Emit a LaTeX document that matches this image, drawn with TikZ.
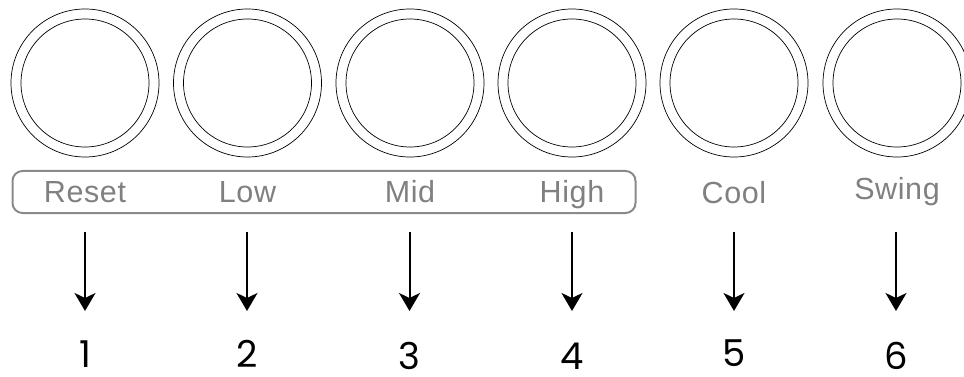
\documentclass[tikz,border=0pt]{standalone}
\usepackage{fontspec}
\setmainfont{Liberation Sans}
\newfontfamily\numfont{Poppins}
\usetikzlibrary{arrows.meta}
\definecolor{labgray}{HTML}{808080}
\definecolor{boxgray}{HTML}{8A8A8A}
\tikzset{
  knobout/.style={circle, draw=black, line width=0.7pt, minimum size=148pt, inner sep=0pt},
  knobin/.style={circle, draw=black, line width=0.7pt, minimum size=128pt, inner sep=0pt},
  lab/.style={anchor=base, text=labgray, inner sep=0pt, font=\fontsize{30.5}{32}\selectfont\addfontfeature{LetterSpace=2}},
  num/.style={anchor=base, text=black, inner sep=0pt, font=\numfont\fontsize{37}{38}\selectfont},
  arr/.style={line width=2pt, -{Stealth[length=18pt, width=21pt, inset=5pt]}},
  grpbox/.style={draw=boxgray, line width=2pt, rounded corners=10pt}
}
\begin{document}
\begin{tikzpicture}[x=1pt, y=-1pt]
\useasboundingbox (0,0) rectangle (964,377);
% knobs
\foreach \i/\x in {1/85, 2/247.5, 3/410, 4/572, 5/734, 6/897}{
  \node[knobout] (c\i) at (\x,83) {};
  \node[knobin] (k\i) at (\x,83) {};
}
% group box
\draw[grpbox] (12.5,171) rectangle (635.5,213);
% labels
\node[lab] (l1) at (85,202) {Reset};
\node[lab] (l2) at (247.5,202) {Low};
\node[lab] (l3) at (410,202) {Mid};
\node[lab] (l4) at (572,202) {High};
\node[lab] (l5) at (734,203) {Cool};
\node[lab] (l6) at (897,200) {Swing};
% numbers
\node[num] (n1) at (85,367) {1};
\node[num] (n2) at (247,367) {2};
\node[num] (n3) at (409.5,369.5) {3};
\node[num] (n4) at (572,369.5) {4};
\node[num] (n5) at (734,366.5) {5};
\node[num] (n6) at (896.5,369.5) {6};
% arrows
\foreach \i/\x in {1/85, 2/247, 3/409.5, 4/572, 5/734, 6/896}{
  \coordinate (s\i) at (\x,232);
  \coordinate (e\i) at (\x,311);
  \draw[arr] (s\i) -- (e\i);
}
\end{tikzpicture}
\end{document}
